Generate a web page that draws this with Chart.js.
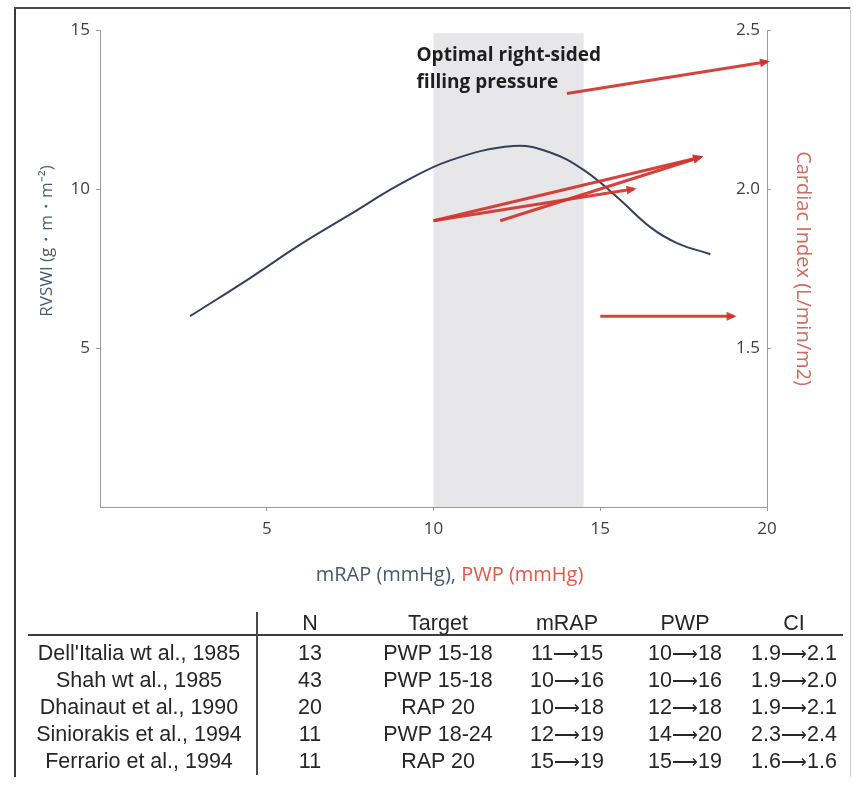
<!DOCTYPE html>
<html>
<head>
<meta charset="utf-8">
<title>RVSWI, cardiac index and filling pressure</title>
<script src="https://cdn.jsdelivr.net/npm/chart.js@4.4.0/dist/chart.umd.min.js"></script>
<style>
  html, body { margin: 0; padding: 0; background: #fff; }
  #wrap { position: relative; width: 853px; height: 785px; overflow: hidden; background: #fff; }
  #chart { position: absolute; left: 0; top: 0; z-index: 1; }
  .cell { position: absolute; width: 240px; text-align: center; white-space: nowrap; z-index: 2;
          font-family: "Liberation Sans", Arial, sans-serif;
          font-size: 21.5px; line-height: 24px; color: #262626; }
  .cell .arr { font-size: 0.85em; }
  #rule { position: absolute; left: 28px; top: 634px; width: 815px; height: 2px; background: #3c3c3c; z-index: 2; }
  #sep { position: absolute; left: 256px; top: 612px; width: 2px; height: 163px; background: #4a4a4a; z-index: 2; }
</style>
</head>
<body>
<div id="wrap">
  <canvas id="chart" width="853" height="785"></canvas>
  <div id="table"><div id="rule"></div><div id="sep"></div></div>
</div>
<script>
// RVSWI against mean right atrial pressure (smooth curve)
const mrapCurve  = [2.7, 4.5, 6.0, 7.5, 9.0, 10.5, 12.4, 13.5, 14.5, 15.5, 16.5, 17.3, 18.3];
const rvswiCurve = [6.0, 7.2, 8.25, 9.2, 10.15, 10.9, 11.35, 11.15, 10.6, 9.75, 8.8, 8.3, 7.95];

// Volume-loading studies: PWP and cardiac index before -> after
const studies   = ["Dell'Italia wt al., 1985", "Shah wt al., 1985", "Dhainaut et al., 1990", "Siniorakis et al., 1994", "Ferrario et al., 1994"];
const nPatients = [13, 43, 20, 11, 11];
const targets   = ["PWP 15-18", "PWP 15-18", "RAP 20", "PWP 18-24", "RAP 20"];
const mrapFrom  = [11, 10, 10, 12, 15];
const mrapTo    = [15, 16, 18, 19, 19];
const pwpFrom   = [10, 10, 12, 14, 15];
const pwpTo     = [18, 16, 18, 20, 19];
const ciFrom    = [1.9, 1.9, 1.9, 2.3, 1.6];
const ciTo      = [2.1, 2.0, 2.1, 2.4, 1.6];
const headers   = ["", "N", "Target", "mRAP", "PWP", "CI"];

// Optimal right-sided filling pressure band (mmHg) and its top on the RVSWI axis
const bandRange = [10, 14.5];
const bandTop   = 14.9;

// Tick labels
const xTicks  = [5, 10, 15, 20];
const yTicks  = [5, 10, 15];
const ciTicks = [1.5, 2.0, 2.5];

const FONT = "'Open Sans', sans-serif";
const RED = 'rgba(208, 52, 46, 0.92)';
const CURVE = '#33425a';
const LEFT_TITLE = 'RVSWI (g・m・m⁻²)';

Chart.defaults.font.family = FONT;
Chart.defaults.color = '#3f3f3f';

const arrowSets = studies.map((s, i) => ({
  label: s,
  isArrow: true,
  data: [{ x: pwpFrom[i], y: ciFrom[i] }, { x: pwpTo[i], y: ciTo[i] }],
  yAxisID: 'y1',
  borderColor: RED,
  borderWidth: 3,
  pointRadius: 0,
  tension: 0,
  clip: false
}));

const curveSet = {
  label: 'RVSWI',
  data: mrapCurve.map((x, i) => ({ x, y: rvswiCurve[i] })),
  yAxisID: 'y',
  borderColor: CURVE,
  borderWidth: 2,
  pointRadius: 0,
  tension: 0.4
};

const decorations = {
  id: 'decorations',
  beforeDraw(chart) {
    const { ctx, scales: { x, y }, chartArea } = chart;
    // outer frame of the figure
    ctx.save();
    ctx.fillStyle = '#3a3a3a';
    ctx.fillRect(14, 7, 2, 770);
    ctx.fillStyle = '#4a4a4a';
    ctx.fillRect(14, 7, 837, 2);
    ctx.fillStyle = '#cfcfcf';
    ctx.fillRect(850, 7, 1, 770);
    ctx.restore();

    const x1 = x.getPixelForValue(bandRange[0]);
    const x2 = x.getPixelForValue(bandRange[1]);
    const yt = y.getPixelForValue(bandTop);
    ctx.save();
    ctx.fillStyle = '#e7e7e9';
    ctx.fillRect(x1, yt, x2 - x1, chartArea.bottom - yt);
    ctx.fillStyle = '#1e1e1e';
    ctx.font = "bold 19px " + FONT;
    ctx.textAlign = 'left';
    ctx.textBaseline = 'alphabetic';
    ctx.fillText('Optimal right-sided', x1 - 17, chartArea.top + 31);
    ctx.fillText('filling pressure', x1 - 17, chartArea.top + 58);
    ctx.restore();
  },
  afterDatasetsDraw(chart) {
    const { ctx } = chart;
    chart.data.datasets.forEach((ds, i) => {
      if (!ds.isArrow) return;
      const pts = chart.getDatasetMeta(i).data;
      const p0 = pts[0], p1 = pts[1];
      const a = Math.atan2(p1.y - p0.y, p1.x - p0.x);
      const tipX = p1.x + Math.cos(a) * 3, tipY = p1.y + Math.sin(a) * 3;
      const len = 10, half = 4.5;
      const bx = tipX - Math.cos(a) * len, by = tipY - Math.sin(a) * len;
      ctx.save();
      ctx.fillStyle = RED;
      ctx.beginPath();
      ctx.moveTo(tipX, tipY);
      ctx.lineTo(bx - Math.sin(a) * half, by + Math.cos(a) * half);
      ctx.lineTo(bx + Math.sin(a) * half, by - Math.cos(a) * half);
      ctx.closePath();
      ctx.fill();
      ctx.restore();
    });
  },
  afterDraw(chart) {
    const { ctx, chartArea } = chart;
    // y-axis title, set a little above the middle of the axis
    ctx.save();
    ctx.translate(47, chartArea.top + 211);
    ctx.rotate(-Math.PI / 2);
    ctx.font = "17px " + FONT;
    ctx.fillStyle = '#4d5b6e';
    ctx.textAlign = 'center';
    ctx.textBaseline = 'middle';
    ctx.fillText(LEFT_TITLE, 0, 0);
    ctx.restore();

    // two-coloured x-axis title
    const part1 = 'mRAP (mmHg), ';
    const part2 = 'PWP (mmHg)';
    ctx.save();
    ctx.font = "20px " + FONT;
    ctx.textBaseline = 'middle';
    ctx.textAlign = 'left';
    const w1 = ctx.measureText(part1).width, w2 = ctx.measureText(part2).width;
    const cx = (chartArea.left + chartArea.right) / 2 + 16;
    const y0 = chartArea.bottom + 68;
    const sx = cx - (w1 + w2) / 2;
    ctx.fillStyle = '#4a586c';
    ctx.fillText(part1, sx, y0);
    ctx.fillStyle = '#e0574c';
    ctx.fillText(part2, sx + w1, y0);
    ctx.restore();
  }
};

const axisGrid = { display: true, drawOnChartArea: false, drawTicks: true, tickLength: 4, color: '#9a9a9a' };
const axisBorder = { display: true, color: '#9a9a9a', width: 1 };

new Chart(document.getElementById('chart'), {
  type: 'line',
  data: { datasets: [...arrowSets, curveSet] },
  options: {
    responsive: false,
    animation: false,
    devicePixelRatio: 1,
    layout: { padding: { left: 20, right: 0, top: 30, bottom: 185 } },
    plugins: { legend: { display: false }, tooltip: { enabled: false } },
    scales: {
      x: {
        type: 'linear', min: 0, max: 20,
        grid: axisGrid, border: axisBorder,
        afterBuildTicks: s => { s.ticks = xTicks.map(v => ({ value: v })); },
        afterFit: s => { s.height = 93; },
        ticks: { padding: 8, font: { size: 17 }, color: '#3f3f3f' }
      },
      y: {
        type: 'linear', position: 'left', min: 0, max: 15,
        grid: axisGrid, border: axisBorder,
        afterBuildTicks: s => { s.ticks = yTicks.map(v => ({ value: v })); },
        afterFit: s => { s.width = 80; },
        ticks: { padding: 6, font: { size: 17 }, color: '#3f3f3f' }
      },
      y1: {
        type: 'linear', position: 'right', min: 1.0, max: 2.5,
        grid: axisGrid, border: axisBorder,
        afterBuildTicks: s => { s.ticks = ciTicks.map(v => ({ value: v })); },
        afterFit: s => { s.width = 86; },
        ticks: { mirror: true, padding: -7, font: { size: 17 }, color: '#3f3f3f',
                 callback: v => Number(v).toFixed(1) },
        title: { display: true, text: 'Cardiac Index (L/min/m2)', color: '#cf6a5e',
                 font: { size: 20 }, padding: { top: 38, bottom: 0 } }
      }
    }
  },
  plugins: [decorations]
});

// Summary table of the studies
const table = document.getElementById('table');
const colCenters = [139, 310, 438, 567, 685, 794];
function addCell(parts, cx, cy) {
  const d = document.createElement('div');
  d.className = 'cell';
  parts.forEach((p, k) => {
    if (k > 0) {
      const a = document.createElement('span');
      a.className = 'arr';
      a.textContent = '⟶';
      d.appendChild(a);
    }
    d.appendChild(document.createTextNode(p));
  });
  d.style.left = (cx - 120) + 'px';
  d.style.top = (cy - 12) + 'px';
  table.appendChild(d);
}
headers.forEach((h, c) => { if (h) addCell([h], colCenters[c], 623); });
studies.forEach((s, i) => {
  const cells = [
    [s],
    [String(nPatients[i])],
    [targets[i]],
    [String(mrapFrom[i]), String(mrapTo[i])],
    [String(pwpFrom[i]), String(pwpTo[i])],
    [ciFrom[i].toFixed(1), ciTo[i].toFixed(1)]
  ];
  const cy = 653 + i * 27;
  cells.forEach((t, c) => addCell(t, colCenters[c], cy));
});
</script>
</body>
</html>
